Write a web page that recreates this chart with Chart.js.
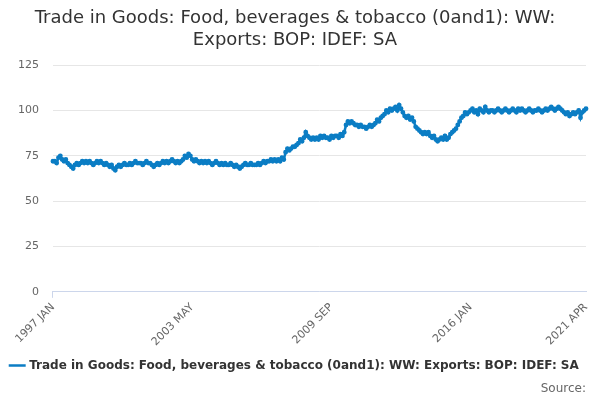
<!DOCTYPE html>
<html lang="en">
<head>
    <meta charset="UTF-8">
    <title>Trade in Goods</title>
    <script src="https://cdn.jsdelivr.net/npm/chart.js"></script>
    <style>
        body { margin: 0; background: #fff; }
        #wrap { width: 600px; height: 400px; }
    </style>
</head>
<body>
    <div id="wrap"><canvas id="myChart"></canvas></div>
    <script>
        const seriesName = 'Trade in Goods: Food, beverages & tobacco (0and1): WW: Exports: BOP: IDEF: SA';
        const monthNames = ['JAN','FEB','MAR','APR','MAY','JUN','JUL','AUG','SEP','OCT','NOV','DEC'];
        const firstYear = 1997;
        const shownLabels = ['1997 JAN', '2003 MAY', '2009 SEP', '2016 JAN', '2021 APR'];

        // monthly values, one array per year
        const y1997 = [72,72,71,74,75,73,72,73,71,70,69,68];
        const y1998 = [70,71,70,71,72,71,72,71,72,71,70,71];
        const y1999 = [72,71,72,71,70,71,70,69,70,68,67,69];
        const y2000 = [70,69,70,71,70,70,71,70,71,72,71,71];
        const y2001 = [71,70,71,72,71,71,70,69,70,71,70,71];
        const y2002 = [72,71,72,71,72,73,72,71,72,71,72,73];
        const y2003 = [75,74,76,75,73,72,73,72,71,72,71,72];
        const y2004 = [71,72,71,70,71,72,71,70,71,70,71,70];
        const y2005 = [70,71,70,69,70,69,68,69,70,71,70,70];
        const y2006 = [71,70,70,70,71,70,71,72,71,72,72,73];
        const y2007 = [72,73,72,73,72,74,73,77,79,78,79,80];
        const y2008 = [80,81,82,84,83,85,88,86,85,84,85,84];
        const y2009 = [85,84,86,85,86,85,85,84,86,85,86,86];
        const y2010 = [85,87,86,88,92,94,93,94,93,92,92,91];
        const y2011 = [92,91,91,90,91,92,91,92,93,95,94,96];
        const y2012 = [97,98,100,99,101,100,101,102,100,103,101,99];
        const y2013 = [97,96,97,95,96,94,91,90,89,88,87,88];
        const y2014 = [87,88,86,85,86,84,83,84,85,84,86,84];
        const y2015 = [85,87,88,89,90,92,94,96,97,99,98,99];
        const y2016 = [100,101,99,100,98,101,100,99,102,100,99,100];
        const y2017 = [100,99,100,101,100,99,100,101,100,99,100,101];
        const y2018 = [100,99,101,100,101,100,99,100,101,100,99,100];
        const y2019 = [100,101,100,99,100,101,100,101,102,101,100,101];
        const y2020 = [102,101,100,99,98,99,97,98,99,98,99,100];
        const y2021 = [96,99,100,101];

        const values = [].concat(y1997,y1998,y1999,y2000,y2001,y2002,y2003,y2004,y2005,y2006,
            y2007,y2008,y2009,y2010,y2011,y2012,y2013,y2014,y2015,y2016,y2017,y2018,y2019,y2020,y2021);
        const labels = values.map((v, i) => (firstYear + Math.floor(i / 12)) + ' ' + monthNames[i % 12]);

        const blue = '#0b7dc4';
        const ctx = document.getElementById('myChart').getContext('2d');
        new Chart(ctx, {
            type: 'line',
            data: {
                labels: labels,
                datasets: [{
                    label: seriesName,
                    data: values,
                    borderColor: blue,
                    backgroundColor: blue,
                    borderWidth: 2.5,
                    pointRadius: 1.2,
                    pointBackgroundColor: blue,
                    tension: 0
                }]
            },
            options: {
                responsive: true,
                maintainAspectRatio: false,
                animation: false,
                layout: { padding: { left: 4, right: 14, top: 4, bottom: 0 } },
                plugins: {
                    title: {
                        display: true,
                        text: ['Trade in Goods: Food, beverages & tobacco (0and1): WW:', 'Exports: BOP: IDEF: SA'],
                        color: '#333',
                        font: { family: 'DejaVu Sans', size: 18, weight: 'normal' },
                        padding: { top: 4, bottom: 14 }
                    },
                    legend: {
                        position: 'bottom',
                        labels: {
                            usePointStyle: true,
                            pointStyle: 'line',
                            color: '#333',
                            font: { family: 'DejaVu Sans', size: 12, weight: 'bold' },
                            padding: 8
                        }
                    },
                    subtitle: {
                        display: true,
                        position: 'bottom',
                        align: 'end',
                        text: 'Source:',
                        color: '#666',
                        font: { family: 'DejaVu Sans', size: 12 },
                        padding: { top: 0, bottom: 4 }
                    }
                },
                scales: {
                    x: {
                        grid: {
                            drawOnChartArea: false,
                            tickLength: 6,
                            color: c => (c.index % 19 === 0 ? '#ccd6eb' : 'rgba(0,0,0,0)')
                        },
                        border: { color: '#ccd6eb' },
                        ticks: {
                            autoSkip: false,
                            maxRotation: 45,
                            minRotation: 45,
                            color: '#666',
                            font: { family: 'DejaVu Sans', size: 11 },
                            callback: function (v, i) {
                                const l = labels[i];
                                return shownLabels.includes(l) ? l : null;
                            }
                        }
                    },
                    y: {
                        min: 0,
                        max: 125,
                        ticks: { stepSize: 25, color: '#666', font: { family: 'DejaVu Sans', size: 11 }, padding: 14 },
                        grid: { color: '#e6e6e6', drawTicks: false },
                        border: { display: false }
                    }
                }
            }
        });
    </script>
</body>
</html>
